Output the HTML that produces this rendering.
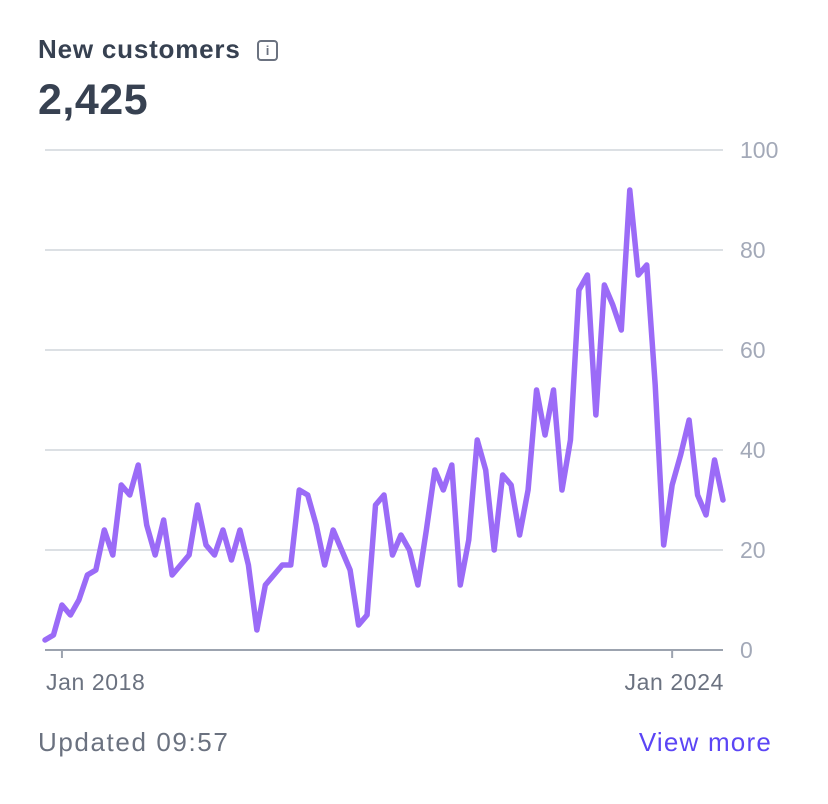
<!DOCTYPE html>
<html><head><meta charset="utf-8"><style>
body{margin:0;background:#fff;width:828px;height:804px;overflow:hidden;font-family:"Liberation Sans",sans-serif}
.t{position:absolute;left:38px;top:34px;font-size:26px;letter-spacing:0.8px;font-weight:bold;color:#374151}
.v{position:absolute;left:38px;top:76px;font-size:43px;letter-spacing:0.5px;font-weight:bold;color:#374151}
.info{position:absolute;left:257px;top:40px;width:17px;height:17px;border:2px solid #6b7280;border-radius:4px;color:#6b7280;font-size:13px;font-weight:bold;text-align:center;line-height:17px}
.u{position:absolute;left:38px;top:727px;font-size:26px;letter-spacing:1.6px;color:#6b7280}
.m{position:absolute;right:56px;top:727px;font-size:26px;letter-spacing:1.2px;color:#5b45f5}
svg{position:absolute;left:0;top:0}
</style></head><body>
<div class="t">New customers</div>
<div class="info">i</div>
<div class="v">2,425</div>
<svg id="c" width="828" height="720"></svg>
<div class="u">Updated 09:57</div>
<div class="m">View more</div>
<script>
const values=[2,3,9,7,10,15,16,24,19,33,31,37,25,19,26,15,17,19,29,21,19,24,18,24,17,4,13,15,17,17,32,31,25,17,24,20,16,5,7,29,31,19,23,20,13,24,36,32,37,13,22,42,36,20,35,33,23,32,52,43,52,32,42,72,75,47,73,69,64,92,75,77,53,21,33,39,46,31,27,38,30];
const yTicks=[0,20,40,60,80,100];
const xTickLabels=["Jan 2018","Jan 2024"];
const xTickIndex=[2,74];
const NS="http://www.w3.org/2000/svg",svg=document.getElementById('c');
const x0=45,x1=723,y0=650,y1=150;
const xs=i=>x0+i*(x1-x0)/(values.length-1);
const ys=v=>y0+(y1-y0)*v/100;
function mk(t,a){const e=document.createElementNS(NS,t);for(const k in a)e.setAttribute(k,a[k]);svg.appendChild(e);return e;}
yTicks.forEach(v=>{
 if(v>0){const g=mk('line',{x1:x0,x2:x1,y1:ys(v),y2:ys(v),stroke:'#d1d5db','stroke-width':1.5});
 
 }
 const t=mk('text',{x:740,y:ys(v)+8,'text-anchor':'start','font-size':23,fill:'#a3a9b8','font-family':'Liberation Sans'});
 t.textContent=v;
 
 
});
const ax=mk('line',{x1:x0,x2:x1,y1:y0,y2:y0,stroke:'#9ca3af','stroke-width':2});


xTickIndex.forEach((ix,k)=>{
 const tk=mk('line',{x1:xs(ix),x2:xs(ix),y1:y0,y2:y0+8,stroke:'#9ca3af','stroke-width':2});
 
 
 const first=k===0;
 const t=mk('text',{x:first?46:724,y:690,'text-anchor':first?'start':'end','font-size':23,'letter-spacing':0.6,fill:'#6b7280','font-family':'Liberation Sans'});
 t.textContent=xTickLabels[k];
 
 
});
const p=mk('polyline',{points:values.map((v,i)=>xs(i)+','+ys(v)).join(' '),fill:'none',stroke:'#9b6bf7','stroke-width':5.5,'stroke-linejoin':'round','stroke-linecap':'round'});


</script>
</body></html>
